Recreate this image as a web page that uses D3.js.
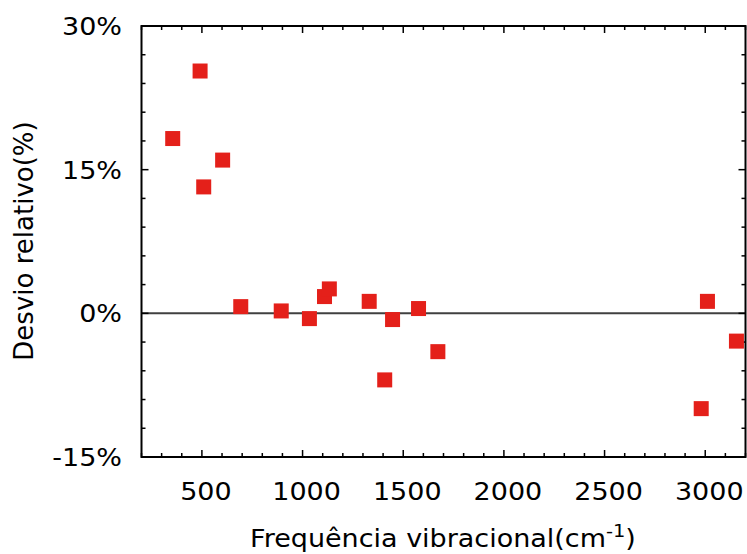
<!DOCTYPE html>
<html>
<head>
<meta charset="utf-8">
<script src="https://cdn.jsdelivr.net/npm/d3@7"></script>
<style>
  html, body { margin: 0; padding: 0; background: #fff; }
  svg text { font-family: "DejaVu Sans", sans-serif; fill: #000; }
</style>
</head>
<body>
<svg id="chart" width="747" height="554"></svg>
<script>
// Data
const frequencies = [355, 491, 509, 603, 693, 894, 1034, 1109, 1133, 1331, 1408, 1447, 1576, 1672, 2980, 3011, 3155];
const deviations  = [18.25, 25.3, 13.2, 16.0, 0.7, 0.25, -0.55, 1.75, 2.55, 1.25, -6.95, -0.65, 0.5, -4.0, -9.95, 1.25, -2.9];
const xTicks = [500, 1000, 1500, 2000, 2500, 3000];
const yTicks = [-15, 0, 15, 30];
const xTitle = "Frequência vibracional(cm";
const xTitleSup = "-1";
const yTitle = "Desvio relativo(%)";

(function () {
const svg = d3.select("#chart");
const pL = 141.5, pR = 745.5, pT = 26, pB = 457;
const fs = 25, sx = 1.08;

const x = d3.scaleLinear().domain([200, 3200]).range([pL, pR]);
const y = d3.scaleLinear().domain([-15, 30]).range([pB, pT]);

const xMinor = d3.range(200, 3201, 100);
const yMinor = d3.range(-15, 30.01, 3);

const g = svg.append("g");

// zero line
g.append("line")
  .attr("x1", pL).attr("x2", pR)
  .attr("y1", y(0)).attr("y2", y(0))
  .attr("stroke", "#404040").attr("stroke-width", 2);

// ticks (inward) on all four sides
const tickG = g.append("g").attr("stroke", "#000").attr("stroke-width", 1.5);
xMinor.forEach(v => {
  const major = xTicks.includes(v);
  const len = major ? 7 : 4;
  tickG.append("line").attr("x1", x(v)).attr("x2", x(v)).attr("y1", pB).attr("y2", pB - len);
  tickG.append("line").attr("x1", x(v)).attr("x2", x(v)).attr("y1", pT).attr("y2", pT + len);
});
yMinor.forEach(v => {
  const major = yTicks.some(t => Math.abs(t - v) < 1e-6);
  const len = major ? 7 : 4;
  tickG.append("line").attr("y1", y(v)).attr("y2", y(v)).attr("x1", pL).attr("x2", pL + len);
  tickG.append("line").attr("y1", y(v)).attr("y2", y(v)).attr("x1", pR).attr("x2", pR - len);
});

// frame
g.append("rect")
  .attr("x", pL).attr("y", pT)
  .attr("width", pR - pL).attr("height", pB - pT)
  .attr("fill", "none").attr("stroke", "#000").attr("stroke-width", 2);

// tick labels (slightly widened glyphs as in the reference)
g.selectAll(".xl").data(xTicks).enter().append("text")
  .attr("transform", d => `translate(${x(d) + 4},500) scale(${sx},1)`)
  .attr("text-anchor", "middle").attr("font-size", fs)
  .text(d => d);
g.selectAll(".yl").data(yTicks).enter().append("text")
  .attr("transform", d => `translate(122,${y(d) + 9}) scale(${sx},1)`)
  .attr("text-anchor", "end").attr("font-size", fs)
  .text(d => d + "%");

// axis titles
const xt = g.append("text")
  .attr("transform", `translate(443,547) scale(${sx},1)`)
  .attr("text-anchor", "middle").attr("font-size", fs);
xt.append("tspan").text(xTitle);
xt.append("tspan").attr("dy", -10).attr("font-size", 18).text(xTitleSup);
xt.append("tspan").attr("dy", 10).text(")");

g.append("text")
  .attr("transform", `translate(33,241) rotate(-90)`)
  .attr("text-anchor", "middle").attr("font-size", 26)
  .text(yTitle);

// points
const s = 15;
g.selectAll(".pt").data(frequencies).enter().append("rect")
  .attr("x", d => x(d) - s / 2)
  .attr("y", (d, i) => y(deviations[i]) - s / 2)
  .attr("width", s).attr("height", s)
  .attr("fill", "#e4201a");
})();
</script>
</body>
</html>
